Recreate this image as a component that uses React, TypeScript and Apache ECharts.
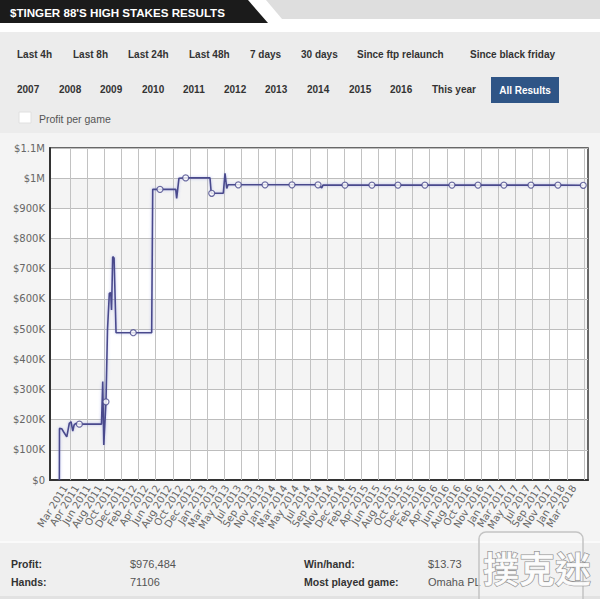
import React, { useEffect, useRef } from "react";
import * as echarts from "echarts";

// ---------- data ----------
const DATE_LABELS = [
  "Mar 2011", "Apr 2011", "Jun 2011", "Aug 2011", "Oct 2011", "Dec 2011",
  "Feb 2012", "Apr 2012", "Jun 2012", "Aug 2012", "Oct 2012", "Dec 2012",
  "Jan 2013", "Mar 2013", "May 2013", "Jul 2013", "Sep 2013", "Nov 2013",
  "Jan 2014", "Mar 2014", "May 2014", "Jul 2014", "Sep 2014", "Nov 2014", "Dec 2014",
  "Feb 2015", "Apr 2015", "Jun 2015", "Aug 2015", "Oct 2015", "Dec 2015",
  "Feb 2016", "Apr 2016", "Jun 2016", "Aug 2016", "Oct 2016", "Nov 2016",
  "Jan 2017", "Mar 2017", "May 2017", "Jul 2017", "Sep 2017", "Nov 2017",
  "Jan 2018", "Mar 2018",
];

// position along the date sequence (label index units) and cumulative profit ($)
const PROFIT_X = [
  -0.49, -0.48, -0.29, -0.13, 0.15, 0.26, 0.37, 0.52, 0.67, 0.78, 0.91, 1.24,
  3.15, 3.26, 3.35, 3.54, 3.67, 3.83, 3.95, 4.02, 4.12, 4.24, 4.41, 5.9,
  7.49, 7.58, 8.21, 9.57, 9.65, 9.85, 10.43, 12.53, 12.64, 12.68, 13.68, 13.83,
  13.98, 14.09, 14.98, 17.29, 19.62, 21.87, 22.19, 22.3, 24.2, 26.53, 28.78,
  31.11, 33.45, 35.7, 37.94, 40.28, 42.61, 44.8,
];
const PROFIT_Y = [
  0, 171000, 170000, 160000, 143000, 165000, 188000, 193000, 162000, 182000, 187000, 185000,
  185000, 326000, 116000, 259000, 497000, 619000, 620000, 563000, 740000, 735000, 488000, 488000,
  488000, 963000, 963000, 963000, 933000, 1000000, 1001000, 1001000, 950000, 950000, 950000, 1016000,
  966000, 978000, 978000, 978000, 978000, 978000, 968000, 977000, 977000, 977000, 977000,
  977000, 977000, 977000, 977000, 977000, 977000, 976484,
];
const MARKER_X = [
  1.24, 3.54, 5.9, 8.21, 10.43, 12.68, 14.98, 17.29, 19.62, 21.87,
  24.2, 26.53, 28.78, 31.11, 33.45, 35.7, 37.94, 40.28, 42.61, 44.8,
];
const MARKER_Y = [
  185000, 259000, 488000, 963000, 1001000, 950000, 978000, 978000, 978000, 978000,
  977000, 977000, 977000, 977000, 977000, 977000, 977000, 977000, 977000, 976484,
];

const TITLE = "$TINGER 88'S HIGH STAKES RESULTS";
const RANGE_BUTTONS = [
  "Last 4h", "Last 8h", "Last 24h", "Last 48h", "7 days", "30 days",
  "Since ftp relaunch", "Since black friday",
];
const YEAR_BUTTONS = [
  "2007", "2008", "2009", "2010", "2011", "2012", "2013", "2014", "2015", "2016", "This year",
];
const ACTIVE_BUTTON = "All Results";
const CHECKBOX_LABEL = "Profit per game";
const STAT_LABELS = ["Profit:", "Hands:", "Win/hand:", "Most played game:"];
const STAT_VALUES = ["$976,484", "71106", "$13.73", "Omaha PL"];
const WATERMARK = "撲克迷";

// ---------- layout ----------
const RANGE_X = [17, 73, 128, 189, 250, 301, 357, 470];
const YEAR_X = [17, 59, 100, 142, 183, 224, 265, 307, 349, 390, 432];
const STAT_POS = [
  [11, 564], [11, 582], [304, 564], [304, 582],
];
const VALUE_POS = [
  [130, 564], [130, 582], [428, 564], [428, 582],
];

const LINE_COLOR = "#4a4a8c";
const BTN_FONT = "'Liberation Sans', Arial, sans-serif";
const AXIS_FONT = "'DejaVu Sans', Verdana, sans-serif";

function fmtMoney(v: number): string {
  if (v === 0) return "$0";
  if (v >= 1000000) return "$" + +(v / 1000000).toFixed(1) + "M";
  return "$" + Math.round(v / 1000) + "K";
}

export default function App() {
  const ref = useRef<HTMLDivElement>(null);

  useEffect(() => {
    if (!ref.current) return;
    const chart = echarts.init(ref.current, null, { renderer: "svg" });

    const graphics: any[] = [
      // page backgrounds
      { type: "rect", z: -100, shape: { x: 0, y: 0, width: 600, height: 599 }, style: { fill: "#ffffff" } },
      { type: "rect", z: -99, shape: { x: 0, y: 32, width: 600, height: 567 }, style: { fill: "#ececec" } },
      { type: "rect", z: -98, shape: { x: 0, y: 133, width: 600, height: 408 }, style: { fill: "#f4f4f4" } },
      { type: "rect", z: -97, shape: { x: 50, y: 148, width: 538, height: 332 }, style: { fill: "#ffffff" } },
      { type: "rect", z: -98, shape: { x: 0, y: 541, width: 600, height: 2 }, style: { fill: "#fafafa" } },
      { type: "rect", z: -98, shape: { x: 0, y: 543, width: 600, height: 53 }, style: { fill: "#efefef" } },
      { type: "rect", z: -98, shape: { x: 0, y: 596, width: 600, height: 3 }, style: { fill: "#e2e2e2" } },
      // header
      {
        type: "polygon", z: -90,
        shape: { points: [[266, 0], [600, 0], [600, 19], [282, 19]] },
        style: { fill: "#dedede" },
      },
      {
        type: "polygon", z: -89,
        shape: { points: [[0, 0], [248, 0], [268, 23], [0, 23]] },
        style: { fill: "#1b1b1b" },
      },
      {
        type: "text", x: 10, y: 12,
        style: {
          text: TITLE, fill: "#ffffff", font: `bold 11.6px ${BTN_FONT}`,
          textVerticalAlign: "middle",
        },
      },
    ];

    RANGE_BUTTONS.forEach((t, i) => {
      graphics.push({
        type: "text", x: RANGE_X[i], y: 54,
        style: { text: t, fill: "#333333", font: `bold 10px ${BTN_FONT}`, textVerticalAlign: "middle" },
      });
    });
    YEAR_BUTTONS.forEach((t, i) => {
      graphics.push({
        type: "text", x: YEAR_X[i], y: 89,
        style: { text: t, fill: "#333333", font: `bold 10px ${BTN_FONT}`, textVerticalAlign: "middle" },
      });
    });
    graphics.push({
      type: "rect", shape: { x: 491, y: 77, width: 68, height: 26 },
      style: { fill: "#2f5586" },
    });
    graphics.push({
      type: "text", x: 525, y: 90,
      style: {
        text: ACTIVE_BUTTON, fill: "#ffffff", font: `bold 10px ${BTN_FONT}`,
        textAlign: "center", textVerticalAlign: "middle",
      },
    });
    graphics.push({
      type: "rect", shape: { x: 19, y: 112, width: 12, height: 11 },
      style: { fill: "#ffffff", stroke: "#e0e0e0", lineWidth: 1 },
    });
    graphics.push({
      type: "text", x: 39, y: 119,
      style: { text: CHECKBOX_LABEL, fill: "#555555", font: `10.5px ${BTN_FONT}`, textVerticalAlign: "middle" },
    });

    STAT_LABELS.forEach((t, i) => {
      graphics.push({
        type: "text", x: STAT_POS[i][0], y: STAT_POS[i][1],
        style: { text: t, fill: "#333333", font: `bold 10.5px ${BTN_FONT}`, textVerticalAlign: "middle" },
      });
    });
    STAT_VALUES.forEach((t, i) => {
      graphics.push({
        type: "text", x: VALUE_POS[i][0], y: VALUE_POS[i][1],
        style: { text: t, fill: "#555555", font: `11px ${BTN_FONT}`, textVerticalAlign: "middle" },
      });
    });

    // watermark
    graphics.push({
      type: "rect", z: 50,
      shape: { x: 479, y: 532, width: 104, height: 80, r: 7 },
      style: { fill: "rgba(255,255,255,0.2)", stroke: "#c4c4c4", lineWidth: 1.5 },
    });
    graphics.push({
      type: "text", z: 51, x: 537, y: 567,
      style: {
        text: WATERMARK, fill: "rgba(255,255,255,0.85)", stroke: "#8f8f8f", lineWidth: 1.2,
        font: `bold 36px 'Noto Sans CJK TC', sans-serif`, textAlign: "center", textVerticalAlign: "middle",
      },
    });

    const option: any = {
      animation: false,
      backgroundColor: "transparent",
      grid: [
        {
          left: 50, right: 12, top: 148, bottom: 119,
          show: true, backgroundColor: "transparent", borderColor: "#3a3a3a", borderWidth: 1.5,
        },
        { left: 52.87, right: 12, top: 148, bottom: 119, show: false },
      ],
      xAxis: [
        {
          type: "value", gridIndex: 0, min: -1.3, max: 45.21,
          axisLine: { show: true, onZero: false, lineStyle: { color: "#333", width: 2 } },
          axisTick: { show: false },
          splitLine: { show: false },
          axisLabel: {
            customValues: DATE_LABELS.map((_, i) => i),
            formatter: (v: number) => DATE_LABELS[Math.round(v)] ?? "",
            rotate: 58, fontSize: 10, color: "#666", margin: 6, fontFamily: AXIS_FONT,
            showMinLabel: true, showMaxLabel: true,
          },
        },
        {
          type: "value", gridIndex: 1, min: 0, max: 31.24, interval: 1, z: 1,
          axisLine: { show: false }, axisTick: { show: false }, axisLabel: { show: false },
          splitLine: { show: true, showMinLine: false, showMaxLine: false, lineStyle: { color: "#c2c2c2", width: 1 } },
        },
      ],
      yAxis: [
        {
          type: "value", gridIndex: 0, min: 0, max: 1100000, interval: 100000,
          axisLine: { show: true, onZero: false, lineStyle: { color: "#333", width: 2 } },
          axisTick: { show: false },
          axisLabel: { formatter: fmtMoney, fontSize: 10, color: "#666", margin: 5, fontFamily: AXIS_FONT },
          splitLine: { show: true, lineStyle: { color: "#bdbdbd", width: 1 } },
          splitArea: { show: true, areaStyle: { color: ["rgba(0,0,0,0)", "rgba(0,0,0,0.045)"] } },
        },
        { type: "value", gridIndex: 1, min: 0, max: 1, axisLine: { show: false }, axisTick: { show: false }, axisLabel: { show: false }, splitLine: { show: false } },
      ],
      series: [
        {
          type: "line", xAxisIndex: 0, yAxisIndex: 0, z: 3,
          data: PROFIT_X.map((x, i) => [x, PROFIT_Y[i]]),
          symbol: "none", showSymbol: false,
          lineStyle: { color: LINE_COLOR, width: 1.6, shadowColor: "rgba(110,120,220,0.45)", shadowBlur: 3 },
        },
        {
          type: "scatter", xAxisIndex: 0, yAxisIndex: 0, z: 4,
          data: MARKER_X.map((x, i) => [x, MARKER_Y[i]]),
          symbol: "circle", symbolSize: 6,
          itemStyle: { color: "#ffffff", borderColor: LINE_COLOR, borderWidth: 1.2 },
        },
      ],
      graphic: graphics,
    };

    chart.setOption(option);
    return () => chart.dispose();
  }, []);

  return (
    <div
      ref={ref}
      style={{ position: "fixed", left: 0, top: 0, width: 600, height: 599, background: "#fff" }}
    />
  );
}
